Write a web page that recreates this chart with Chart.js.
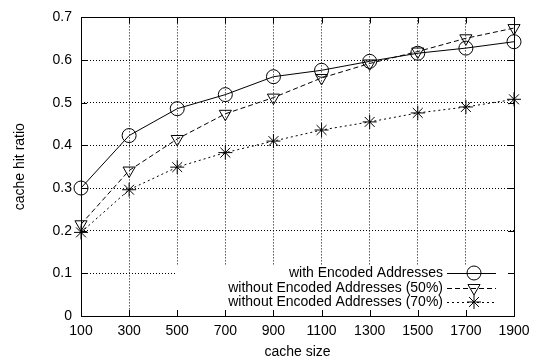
<!DOCTYPE html>
<html>
<head>
<meta charset="utf-8">
<script src="https://cdn.jsdelivr.net/npm/chart.js@4"></script>
<style>
  html, body { margin: 0; padding: 0; background: #fff; }
  #wrap { width: 548px; height: 364px; }
</style>
</head>
<body>
<div id="wrap"><canvas id="hitChart" width="548" height="364"></canvas></div>
<script>
// values
const cacheSizes = ['100', '300', '500', '700', '900', '1100', '1300', '1500', '1700', '1900'];
const withEncoded = [0.300, 0.423, 0.486, 0.519, 0.561, 0.576, 0.597, 0.616, 0.628, 0.643];
const without50 = [0.215, 0.341, 0.415, 0.474, 0.512, 0.558, 0.592, 0.620, 0.651, 0.675];
const without70 = [0.196, 0.296, 0.349, 0.383, 0.410, 0.436, 0.455, 0.476, 0.490, 0.508];
const seriesNames = ['with Encoded Addresses', 'without Encoded Addresses (50%)', 'without Encoded Addresses (70%)'];

const FONT = 'Liberation Sans, Arial, Helvetica, sans-serif';

// frame, inward ticks on all four sides, and the gnuplot style key
const gnuplotLook = {
    id: 'gnuplotLook',
    beforeDatasetsDraw(chart) {
        const ctx = chart.ctx;
        const a = chart.chartArea;
        // the key box hides the grid behind it
        ctx.save();
        ctx.fillStyle = '#fff';
        ctx.fillRect(176, 265, a.right - 176, a.bottom - 265);
        ctx.restore();
    },
    afterDraw(chart) {
        const ctx = chart.ctx;
        const a = chart.chartArea;
        const xs = chart.scales.x;
        const ys = chart.scales.y;
        ctx.save();
        ctx.strokeStyle = '#000';
        ctx.lineWidth = 1;
        ctx.setLineDash([]);
        ctx.beginPath();
        xs.ticks.forEach((t, i) => {
            const px = Math.round(xs.getPixelForTick(i)) + 0.5;
            ctx.moveTo(px, a.bottom); ctx.lineTo(px, a.bottom - 6);
            ctx.moveTo(px, a.top); ctx.lineTo(px, a.top + 6);
        });
        ys.ticks.forEach((t, i) => {
            const py = Math.round(ys.getPixelForTick(i)) + 0.5;
            ctx.moveTo(a.left, py); ctx.lineTo(a.left + 6, py);
            ctx.moveTo(a.right, py); ctx.lineTo(a.right - 6, py);
        });
        ctx.stroke();
        ctx.strokeRect(Math.round(a.left) + 0.5, Math.round(a.top) + 0.5,
            Math.round(a.right - a.left), Math.round(a.bottom - a.top));

        // key
        ctx.font = '14px ' + FONT;
        ctx.textAlign = 'right';
        ctx.textBaseline = 'middle';
        const rowY = [273, 288, 302];
        chart.data.datasets.forEach((ds, i) => {
            const y = rowY[i];
            ctx.fillStyle = '#000';
            ctx.fillText(ds.label, 443, y);
            ctx.beginPath();
            ctx.setLineDash(ds.borderDash || []);
            ctx.moveTo(447, y + 0.5);
            ctx.lineTo(496, y + 0.5);
            ctx.stroke();
            ctx.setLineDash([]);
            ctx.fillStyle = 'rgba(0,0,0,0)';
            Chart.helpers.drawPoint(ctx, {
                pointStyle: ds.pointStyle,
                rotation: ds.pointRotation || 0,
                radius: ds.pointRadius,
                borderWidth: 1
            }, 474, y);
        });
        ctx.restore();
    }
};

function makeSet(label, data, style, dash, rot) {
    return {
        label: label,
        data: data,
        borderColor: '#000',
        backgroundColor: 'rgba(0,0,0,0)',
        borderWidth: 1,
        borderDash: dash,
        pointStyle: style,
        pointRotation: rot,
        pointRadius: 7,
        pointBorderColor: '#000',
        pointBackgroundColor: 'rgba(0,0,0,0)',
        pointBorderWidth: 1,
        fill: false,
        tension: 0
    };
}

new Chart(document.getElementById('hitChart'), {
    type: 'line',
    data: {
        labels: cacheSizes,
        datasets: [
            makeSet(seriesNames[0], withEncoded, 'circle', [], 0),
            makeSet(seriesNames[1], without50, 'triangle', [5, 3], 180),
            makeSet(seriesNames[2], without70, 'star', [2, 3], 0)
        ]
    },
    options: {
        responsive: false,
        animation: false,
        devicePixelRatio: 1,
        layout: { padding: { top: 9, right: 34, left: 0, bottom: 0 } },
        plugins: {
            legend: { display: false },
            tooltip: { enabled: false }
        },
        scales: {
            x: {
                type: 'category',
                offset: false,
                grid: { color: '#000', lineWidth: 1, drawTicks: false },
                border: { display: false, dash: [1, 2] },
                ticks: { color: '#000', padding: 7, maxRotation: 0, font: { family: FONT, size: 14 } },
                title: { display: true, text: 'cache size', color: '#000', padding: { top: 6, bottom: 3 }, font: { family: FONT, size: 14 } },
                afterFit(scale) { scale.height = 48; }
            },
            y: {
                min: 0,
                max: 0.7,
                grid: { color: '#000', lineWidth: 1, drawTicks: false },
                border: { display: false, dash: [1, 2] },
                ticks: {
                    stepSize: 0.1,
                    color: '#000',
                    padding: 9,
                    font: { family: FONT, size: 14 },
                    callback: v => (Math.round(v * 10) / 10).toString()
                },
                title: { display: true, text: 'cache hit ratio', color: '#000', padding: { top: 12, bottom: 0 }, font: { family: FONT, size: 14 } },
                afterFit(scale) { scale.width = 81; }
            }
        }
    },
    plugins: [gnuplotLook]
});
</script>
</body>
</html>
